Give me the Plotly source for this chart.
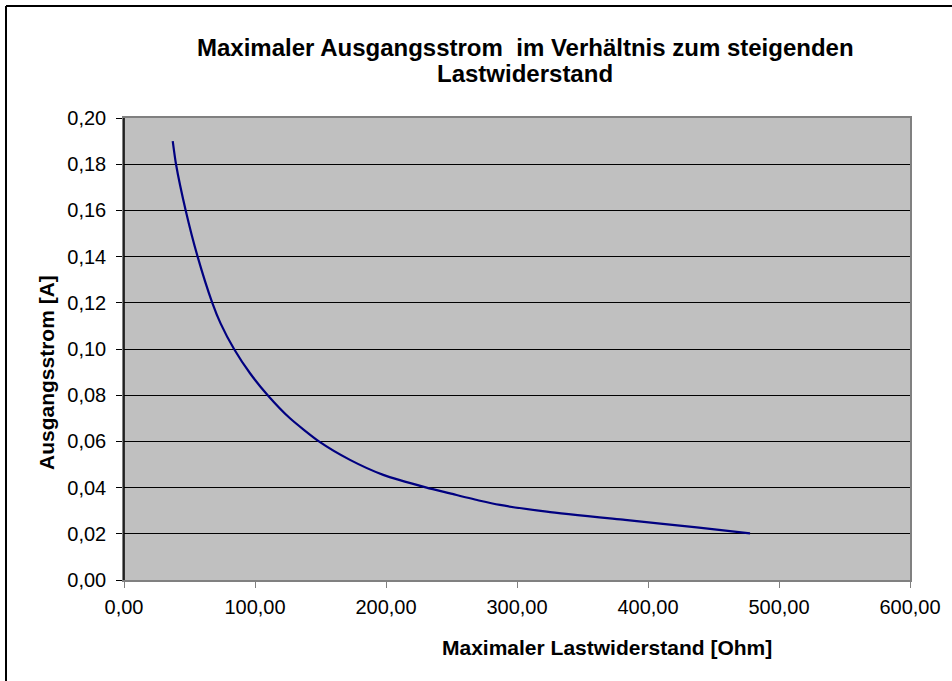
import plotly.graph_objects as go

# Values
lastwiderstand_ohm = [37.2, 39.7, 47.1, 56.2, 67.4, 73.8, 84.0, 96.2, 109.7, 126.7, 148.8, 172.5, 197.9,
                      231.0, 248.9, 271.8, 287.0, 322.7, 382.4, 437.2, 477.9]
ausgangsstrom_a = [0.190, 0.180, 0.160, 0.140, 0.120, 0.111, 0.100, 0.0895, 0.080, 0.070, 0.060, 0.052, 0.0455,
                   0.040, 0.0375, 0.0343, 0.0325, 0.0296, 0.026, 0.0228, 0.0202]

x_ticks = [0, 100, 200, 300, 400, 500, 600]
y_ticks = [0.00, 0.02, 0.04, 0.06, 0.08, 0.10, 0.12, 0.14, 0.16, 0.18, 0.20]

title_line1 = "Maximaler Ausgangsstrom  im Verhältnis zum steigenden"
title_line2 = "Lastwiderstand"
x_title = "Maximaler Lastwiderstand [Ohm]"
y_title = "Ausgangsstrom [A]"

W, H = 952, 681
L, R, T, B = 124, 42, 118, 101
pw, ph = W - L - R, H - T - B

def px(xp):
    return (xp - L) / pw

def py(yp):
    return (H - B - yp) / ph

FONT = "Liberation Sans, Arial, sans-serif"

fig = go.Figure()
fig.add_trace(go.Scatter(
    x=lastwiderstand_ohm, y=ausgangsstrom_a, mode="lines",
    line=dict(color="#000080", width=2.2, shape="spline", smoothing=0.6),
    showlegend=False, hoverinfo="skip",
))

fig.update_layout(
    width=W, height=H,
    margin=dict(l=L, r=R, t=T, b=B),
    paper_bgcolor="white", plot_bgcolor="#C0C0C0",
    separators=",.",
    font=dict(family=FONT, size=20, color="black"),
    xaxis=dict(
        range=[0, 600], tickvals=x_ticks, tickformat=".2f",
        showgrid=False, zeroline=False,
        showline=True, linecolor="#808080", linewidth=1.5, mirror=True,
        ticks="outside", ticklen=6, tickcolor="#808080", tickwidth=1,
        tickfont=dict(size=20, family=FONT, color="black"), ticklabelstandoff=2,
    ),
    yaxis=dict(
        range=[0, 0.2], tickvals=y_ticks, tickformat=".2f",
        showgrid=True, gridcolor="black", gridwidth=1,
        zeroline=False,
        showline=True, linecolor="#808080", linewidth=1.5, mirror=True,
        ticks="outside", ticklen=6, tickcolor="black", tickwidth=1,
        tickfont=dict(size=20, family=FONT, color="black"), ticklabelstandoff=6,
    ),
    shapes=[
        dict(type="line", xref="paper", yref="paper", x0=0, x1=0, y0=0, y1=1,
             line=dict(color="black", width=1.5), layer="above"),
        dict(type="line", xref="paper", yref="paper", x0=px(6), x1=px(960), y0=py(6), y1=py(6),
             line=dict(color="black", width=2)),
        dict(type="line", xref="paper", yref="paper", x0=px(6), x1=px(6), y0=py(6), y1=py(700),
             line=dict(color="black", width=2)),
    ],
    annotations=[
        dict(text="<b>" + title_line1 + "</b>", xref="paper", yref="paper", x=px(525), y=py(47),
             showarrow=False, font=dict(size=24, family=FONT, color="black"),
             xanchor="center", yanchor="middle"),
        dict(text="<b>" + title_line2 + "</b>", xref="paper", yref="paper", x=px(525), y=py(74),
             showarrow=False, font=dict(size=24, family=FONT, color="black"),
             xanchor="center", yanchor="middle"),
        dict(text="<b>" + x_title + "</b>", xref="paper", yref="paper", x=px(607), y=py(647),
             showarrow=False, font=dict(size=21, family=FONT, color="black"),
             xanchor="center", yanchor="middle"),
        dict(text="<b>" + y_title + "</b>", xref="paper", yref="paper", x=px(46), y=py(373),
             showarrow=False, textangle=-90, font=dict(size=21, family=FONT, color="black"),
             xanchor="center", yanchor="middle"),
    ],
)

fig.write_html(
    "out.html",
    config={"displayModeBar": False},
    post_script="document.body.style.margin='0';document.body.style.overflow='hidden';",
)
